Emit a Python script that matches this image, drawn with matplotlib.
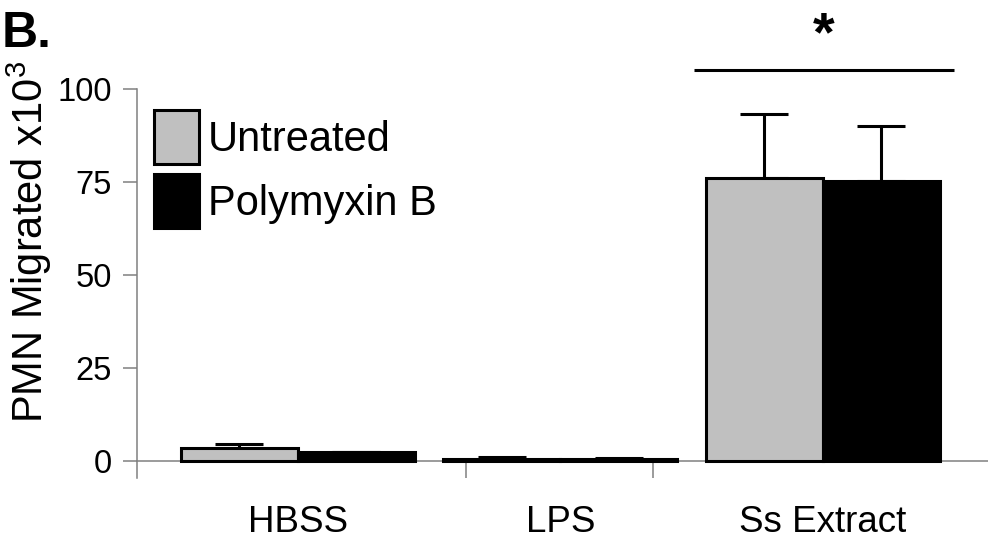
import matplotlib
matplotlib.use("Agg")
import matplotlib.pyplot as plt
import numpy as np

plt.rcParams['font.family'] = ['Liberation Sans', 'DejaVu Sans']
plt.rcParams['mathtext.fontset'] = 'custom'
plt.rcParams['mathtext.rm'] = 'Liberation Sans'
plt.rcParams['mathtext.it'] = 'Liberation Sans'

# ---- data ----
categories = ["HBSS", "LPS", "Ss Extract"]
untreated = [3.5, 0.5, 76.0]
untreated_err = [1.0, 0.6, 17.2]
polymyxin = [2.4, 0.4, 75.3]
polymyxin_err = [0.0, 0.5, 14.8]
series_labels = ["Untreated", "Polymyxin B"]
yticks = [0, 25, 50, 75, 100]
xtick_marks = [0.64, 1.352]
sig_span = [1.509, 2.499]
sig_level = 105.1
sig_text = "*"

W, H = 988, 542
fig = plt.figure(figsize=(W / 100, H / 100), dpi=100)
ax = fig.add_axes([137 / W, 64 / H, 851 / W, 389 / H])

x = np.arange(len(categories))
bw = 0.446
gray = "#C0C0C0"
axis_gray = "#808080"

b1 = ax.bar(x - bw / 2, untreated, width=bw, color=gray, edgecolor="black",
            linewidth=2.2, label=series_labels[0], zorder=3)
b2 = ax.bar(x + bw / 2, polymyxin, width=bw, color="black", edgecolor="black",
            linewidth=2.2, label=series_labels[1], zorder=3)
ax.errorbar(x - bw / 2, untreated, yerr=[np.zeros(len(x)), untreated_err],
            fmt="none", ecolor="black", elinewidth=2.2, capsize=17, capthick=2.2, zorder=2)
ax.errorbar(x + bw / 2, polymyxin, yerr=[np.zeros(len(x)), polymyxin_err],
            fmt="none", ecolor="black", elinewidth=2.2, capsize=17, capthick=2.2, zorder=2)

ax.set_xlim(-0.613, 2.629)
ax.set_ylim(-4.6, 100)

for s in ["top", "right"]:
    ax.spines[s].set_visible(False)
ax.spines["left"].set_color(axis_gray)
ax.spines["left"].set_linewidth(1.1)
ax.spines["bottom"].set_position(("data", 0))
ax.spines["bottom"].set_color(axis_gray)
ax.spines["bottom"].set_linewidth(1.1)

ax.set_yticks(yticks)
ax.set_yticklabels([str(t) for t in yticks], fontsize=23.5)
ax.tick_params(axis="y", direction="out", length=10, width=1.1, color=axis_gray, pad=8)

ax.set_xticks(xtick_marks)
ax.set_xticklabels([])
ax.tick_params(axis="x", which="major", direction="out", length=12, width=1.1, color=axis_gray)
ax.set_xticks(x, minor=True)
ax.set_xticklabels(categories, minor=True, fontsize=26.5)
ax.tick_params(axis="x", which="minor", length=0, pad=32)

ax.set_ylabel(r"PMN Migrated x10$^{\mathrm{3}}$", fontsize=30)
ax.yaxis.set_label_coords(-0.097, 0.607)

# significance marker
ax.plot(sig_span, [sig_level, sig_level], color="black", lw=2.2, clip_on=False,
        solid_capstyle="butt")
ax.text(np.mean(sig_span), sig_level + 5.2, sig_text, fontsize=40, fontweight="bold",
        ha="center", va="baseline", clip_on=False)

leg = ax.legend(handles=[b1, b2], loc="upper left",
                bbox_to_anchor=(154 / W, 1 - 110 / H), bbox_transform=fig.transFigure,
                frameon=False, fontsize=30, handlelength=1.08, handleheight=1.62,
                handletextpad=0.22, labelspacing=0.24, borderpad=0, borderaxespad=0)

fig.text(2 / W, 1 - 47 / H, "B.", fontsize=36, fontweight="bold", ha="left", va="baseline")

fig.savefig("out.png", dpi=100)
